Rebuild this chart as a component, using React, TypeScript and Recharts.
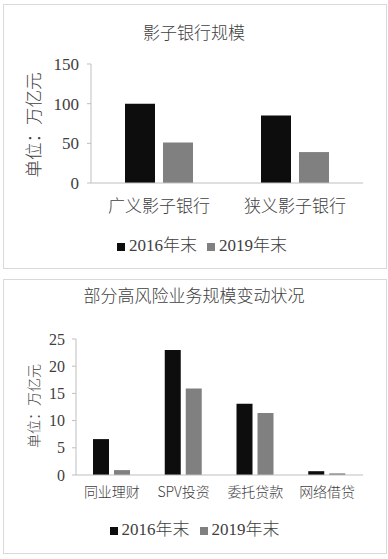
import React from 'react';
import { BarChart, Bar, XAxis, YAxis, Legend } from 'recharts';

const shadowCategories = ['广义影子银行', '狭义影子银行'];
const shadow2016 = [100, 85];
const shadow2019 = [51, 39];
const shadowTicks = [0, 50, 100, 150];

const riskCategories = ['同业理财', 'SPV投资', '委托贷款', '网络借贷'];
const risk2016 = [6.6, 23, 13.1, 0.7];
const risk2019 = [0.9, 15.9, 11.4, 0.3];
const riskTicks = [0, 5, 10, 15, 20, 25];

const seriesNames = ['2016年末', '2019年末'];
const seriesColors = ['#0d0d0d', '#808080'];

const shadowData = shadowCategories.map((name, i) => ({ name, a: shadow2016[i], b: shadow2019[i] }));
const riskData = riskCategories.map((name, i) => ({ name, a: risk2016[i], b: risk2019[i] }));

const TEXT = '#404040';
const AXIS = '#bfbfbf';
const SERIF = "'Liberation Serif', 'Noto Sans CJK SC', serif";
const CJK = "'Noto Sans CJK SC', sans-serif";

const boxStyle = (top: number, height: number): React.CSSProperties => ({
  position: 'absolute', left: 3, top, width: 384, height, border: '1px solid #d9d9d9', boxSizing: 'border-box',
});

const legendFormatter = (v: string) => <span style={{ color: TEXT, fontFamily: SERIF, fontSize: 17, fontWeight: 300 }}>{v}</span>;

export default function App() {
  return (
    <div style={{ position: 'absolute', left: 0, top: 0, width: 388, height: 559, background: '#fff', overflow: 'hidden' }}>
      <div style={boxStyle(4, 265)} />
      <div style={boxStyle(279, 275)} />

      <div style={{ position: 'absolute', left: 0, top: 0, width: 388, height: 275 }}>
        <BarChart width={388} height={275} data={shadowData} margin={{ top: 64, right: 25, left: 51, bottom: 19 }} barGap={8} barCategoryGap="25%">
          <XAxis dataKey="name" tickLine={false} tickSize={0} tickMargin={17} axisLine={{ stroke: AXIS }} height={48}
            tick={{ fill: TEXT, fontSize: 17, fontFamily: CJK, fontWeight: 300 }} interval={0} />
          <YAxis domain={[0, 150]} ticks={shadowTicks} interval={0} width={40} tickSize={4} tickMargin={8}
            axisLine={{ stroke: AXIS }} tickLine={{ stroke: AXIS }} tick={{ fill: TEXT, fontSize: 17, fontFamily: SERIF }} />
          <Legend verticalAlign="bottom" iconType="square" iconSize={8} formatter={legendFormatter} />
          <Bar dataKey="a" name={seriesNames[0]} fill={seriesColors[0]} barSize={30} isAnimationActive={false} />
          <Bar dataKey="b" name={seriesNames[1]} fill={seriesColors[1]} barSize={30} isAnimationActive={false} />
        </BarChart>
      </div>
      <div style={{ position: 'absolute', left: 0, top: 21, width: 388, textAlign: 'center', fontFamily: CJK, fontSize: 17, lineHeight: '22px', color: TEXT, fontWeight: 300 }}>影子银行规模</div>
      <div style={{ position: 'absolute', left: 33, top: 125, transform: 'translate(-50%, -50%) rotate(-90deg)', whiteSpace: 'nowrap', fontFamily: CJK, fontSize: 17.5, lineHeight: '20px', color: TEXT, fontWeight: 300 }}>单位：万亿元</div>

      <div style={{ position: 'absolute', left: 0, top: 275, width: 388, height: 280 }}>
        <BarChart width={388} height={280} data={riskData} margin={{ top: 64, right: 25, left: 36, bottom: 15 }} barGap={5} barCategoryGap="25%">
          <XAxis dataKey="name" tickLine={false} tickSize={0} tickMargin={12} axisLine={{ stroke: AXIS }} height={40}
            tick={{ fill: TEXT, fontSize: 14, fontFamily: CJK, fontWeight: 300 }} interval={0} />
          <YAxis domain={[0, 25]} ticks={riskTicks} interval={0} width={40} tickSize={4} tickMargin={7}
            axisLine={{ stroke: AXIS }} tickLine={{ stroke: AXIS }} tick={{ fill: TEXT, fontSize: 16, fontFamily: SERIF }} />
          <Legend verticalAlign="bottom" iconType="square" iconSize={8} formatter={legendFormatter} />
          <Bar dataKey="a" name={seriesNames[0]} fill={seriesColors[0]} barSize={16} isAnimationActive={false} />
          <Bar dataKey="b" name={seriesNames[1]} fill={seriesColors[1]} barSize={16} isAnimationActive={false} />
        </BarChart>
      </div>
      <div style={{ position: 'absolute', left: 0, top: 284, width: 388, textAlign: 'center', fontFamily: CJK, fontSize: 17, lineHeight: '22px', color: TEXT, fontWeight: 300 }}>部分高风险业务规模变动状况</div>
      <div style={{ position: 'absolute', left: 33, top: 406, transform: 'translate(-50%, -50%) rotate(-90deg)', whiteSpace: 'nowrap', fontFamily: CJK, fontSize: 14, lineHeight: '18px', color: TEXT, fontWeight: 300 }}>单位：万亿元</div>
    </div>
  );
}
